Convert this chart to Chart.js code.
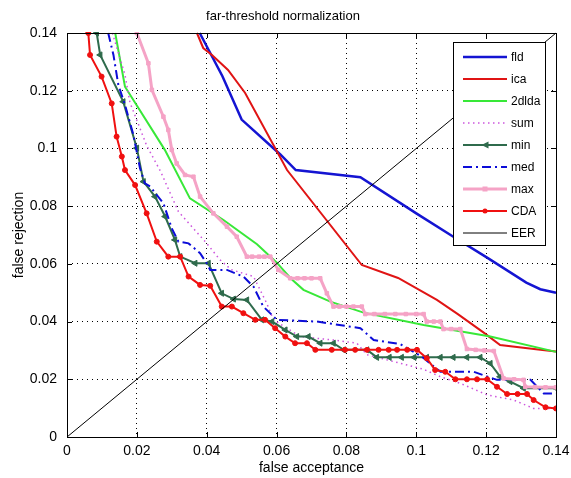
<!DOCTYPE html>
<html>
<head>
<meta charset="utf-8">
<script src="https://cdn.jsdelivr.net/npm/chart.js@4.4.1/dist/chart.umd.min.js"></script>
<style>
  html, body { margin: 0; padding: 0; background: #fff; }
  #c { display: block; }
</style>
</head>
<body>
<canvas id="c" width="571" height="478"></canvas>
<script>
// axis ticks (same for both axes)
const xTicks = [0, 0.02, 0.04, 0.06, 0.08, 0.1, 0.12, 0.14];
const yTicks = [0, 0.02, 0.04, 0.06, 0.08, 0.1, 0.12, 0.14];

const seriesNames = ['fld', 'ica', '2dlda', 'sum', 'min', 'med', 'max', 'CDA', 'EER'];

// [false acceptance, false rejection]
const fld = [[0.038, 0.14], [0.0445, 0.125], [0.050, 0.110], [0.061, 0.098], [0.0655, 0.0925],
  [0.084, 0.090], [0.100, 0.0775], [0.1105, 0.0695], [0.1205, 0.062], [0.1315, 0.0535],
  [0.1355, 0.0512], [0.140, 0.0500]];

const ica = [[0.0372, 0.14], [0.039, 0.1348], [0.0415, 0.1324], [0.0461, 0.1272], [0.051, 0.1192],
  [0.063, 0.0925], [0.0844, 0.0596], [0.0948, 0.0551], [0.1059, 0.0475], [0.112, 0.0425],
  [0.1195, 0.036], [0.124, 0.0319], [0.1355, 0.0302], [0.14, 0.0296]];

const lda2d = [[0.0138, 0.14], [0.0166, 0.1214], [0.028, 0.0995], [0.0352, 0.0827], [0.0448, 0.0752],
  [0.0544, 0.0668], [0.060, 0.0605], [0.064, 0.055], [0.0677, 0.051], [0.0754, 0.0469],
  [0.0849, 0.0431], [0.1021, 0.0388], [0.1212, 0.0348], [0.14, 0.0295]];

const sum = [[0.013, 0.14], [0.0166, 0.1255], [0.018, 0.116], [0.0228, 0.101], [0.0268, 0.092],
  [0.0319, 0.0781], [0.040, 0.0671], [0.0438, 0.0614], [0.047, 0.058], [0.0534, 0.0556],
  [0.0572, 0.0463], [0.0591, 0.0406], [0.0668, 0.0348], [0.0763, 0.0336], [0.083, 0.0325],
  [0.0859, 0.0285], [0.102, 0.0235], [0.1069, 0.0209], [0.1126, 0.0186], [0.1203, 0.0146],
  [0.1279, 0.0128], [0.1336, 0.0099], [0.14, 0.0099]];

const minRule = [[0.0085, 0.14], [0.0095, 0.1324], [0.0161, 0.1162], [0.020, 0.1001], [0.0219, 0.0885],
  [0.0252, 0.0833], [0.0281, 0.0764], [0.0309, 0.0683], [0.0324, 0.0625], [0.0367, 0.0602],
  [0.0405, 0.0602], [0.0443, 0.0498], [0.0477, 0.0478], [0.0515, 0.0475], [0.0558, 0.0406],
  [0.0587, 0.040], [0.0625, 0.0371], [0.0658, 0.0348], [0.0691, 0.0348], [0.0725, 0.0325],
  [0.0763, 0.0325], [0.0792, 0.0302], [0.0859, 0.0302], [0.0887, 0.0276], [0.0923, 0.0276],
  [0.0958, 0.0276], [0.0994, 0.0276], [0.103, 0.0276], [0.1069, 0.0276], [0.1106, 0.0276],
  [0.1145, 0.0276], [0.1183, 0.0276], [0.1212, 0.0255], [0.124, 0.0209], [0.1269, 0.0192],
  [0.1307, 0.0169], [0.14, 0.0169]];

const med = [[0.0118, 0.14], [0.0133, 0.1324], [0.0147, 0.122], [0.0166, 0.1151], [0.019, 0.1047],
  [0.0209, 0.0931], [0.0223, 0.0879], [0.0238, 0.0868], [0.0276, 0.081], [0.030, 0.0723],
  [0.0319, 0.0677], [0.0348, 0.0671], [0.0381, 0.0637], [0.040, 0.0602], [0.041, 0.0579],
  [0.0458, 0.0579], [0.0505, 0.0556], [0.0534, 0.0521], [0.0562, 0.0452], [0.0601, 0.0406],
  [0.0716, 0.040], [0.084, 0.0377], [0.0878, 0.0336], [0.0954, 0.0322], [0.1016, 0.0278],
  [0.1069, 0.0226], [0.1164, 0.0226], [0.1231, 0.0198], [0.1327, 0.0198], [0.1365, 0.0151],
  [0.14, 0.0151]];

const maxRule = [[0.020, 0.14], [0.0233, 0.1295], [0.0243, 0.1203], [0.0276, 0.111], [0.029, 0.1064],
  [0.030, 0.0995], [0.0314, 0.0948], [0.0338, 0.0908], [0.0362, 0.0902], [0.0381, 0.0833],
  [0.0419, 0.0775], [0.0458, 0.0729], [0.0486, 0.0694], [0.0515, 0.0625], [0.053, 0.0625],
  [0.055, 0.0625], [0.0565, 0.0625], [0.0582, 0.0625], [0.0605, 0.0579], [0.0639, 0.055],
  [0.066, 0.055], [0.068, 0.055], [0.070, 0.055], [0.0725, 0.055], [0.0744, 0.0498],
  [0.0763, 0.0452], [0.078, 0.0452], [0.080, 0.0452], [0.082, 0.0452], [0.0844, 0.0452],
  [0.0854, 0.0426], [0.088, 0.0426], [0.091, 0.0426], [0.094, 0.0426], [0.097, 0.0426],
  [0.100, 0.0426], [0.1021, 0.0426], [0.103, 0.040], [0.105, 0.040], [0.1069, 0.040],
  [0.1078, 0.0374], [0.110, 0.0374], [0.1126, 0.0374], [0.1145, 0.0305], [0.117, 0.0302],
  [0.1195, 0.030], [0.1222, 0.0298], [0.125, 0.0203], [0.128, 0.020], [0.1307, 0.0198],
  [0.1312, 0.0174], [0.134, 0.0173], [0.137, 0.0172], [0.14, 0.0172]];

const cda = [[0.0061, 0.14], [0.0066, 0.1324], [0.0099, 0.1249], [0.0128, 0.1156], [0.0142, 0.1041],
  [0.0157, 0.0972], [0.0166, 0.0925], [0.0195, 0.0873], [0.0228, 0.0775], [0.0257, 0.0677],
  [0.029, 0.0625], [0.0324, 0.0625], [0.0348, 0.0556], [0.0381, 0.0527], [0.041, 0.0524],
  [0.0443, 0.0452], [0.0472, 0.0452], [0.0505, 0.0429], [0.0539, 0.0406], [0.0567, 0.0406],
  [0.0596, 0.0377], [0.0625, 0.0348], [0.0653, 0.0325], [0.0687, 0.0325], [0.0711, 0.0302],
  [0.0758, 0.0302], [0.0796, 0.0302], [0.0825, 0.0302], [0.0859, 0.0302], [0.0892, 0.0302],
  [0.0921, 0.0302], [0.0945, 0.0302], [0.0974, 0.0302], [0.1002, 0.0302], [0.103, 0.0273],
  [0.1054, 0.0232], [0.1083, 0.0226], [0.1112, 0.020], [0.1145, 0.020], [0.1174, 0.020],
  [0.1203, 0.020], [0.1231, 0.0174], [0.126, 0.0149], [0.129, 0.0149], [0.1317, 0.0149],
  [0.1336, 0.0128], [0.137, 0.0103], [0.14, 0.0099]];

const eer = [[0, 0], [0.14, 0.14]];

const FONT = "'Liberation Sans', Arial, sans-serif";

function toPoints(pairs) {
  return pairs.map(p => ({ x: p[0], y: p[1] }));
}

function series(i, pairs, s) {
  return {
    label: seriesNames[i],
    data: toPoints(pairs),
    showLine: true,
    order: -i,
    clip: 1,
    borderColor: s.color,
    backgroundColor: s.color,
    borderWidth: s.width,
    borderDash: s.dash || [],
    pointStyle: s.marker || 'circle',
    pointRadius: s.marker ? s.size : 0,
    pointRotation: s.rotation || 0,
    pointBorderWidth: 1
  };
}

const datasets = [
  series(0, fld, { color: '#1414d2', width: 2.5 }),
  series(1, ica, { color: '#e01414', width: 2 }),
  series(2, lda2d, { color: '#38e838', width: 2 }),
  series(3, sum, { color: '#cc55dd', width: 1.5, dash: [1.5, 3.5] }),
  series(4, minRule, { color: '#2f6b4c', width: 2, marker: 'triangle', size: 3.5, rotation: -90 }),
  series(5, med, { color: '#0c0cd8', width: 2, dash: [9, 4, 2, 4] }),
  series(6, maxRule, { color: '#f5a3c6', width: 3, marker: 'rect', size: 2.5 }),
  series(7, cda, { color: '#f01010', width: 2, marker: 'circle', size: 2.5 }),
  series(8, eer, { color: '#000000', width: 1 })
];

function tickText(v) {
  return parseFloat(v.toFixed(2)).toString();
}

// legend marker
function drawMarker(ctx, ds, x, y) {
  if (!ds.pointRadius) return;
  const r = ds.pointRadius;
  ctx.fillStyle = ds.borderColor;
  ctx.beginPath();
  if (ds.pointStyle === 'triangle') {
    ctx.moveTo(x - r, y);
    ctx.lineTo(x + r, y - r);
    ctx.lineTo(x + r, y + r);
    ctx.closePath();
  } else if (ds.pointStyle === 'rect') {
    ctx.rect(x - r, y - r, 2 * r, 2 * r);
  } else {
    ctx.arc(x, y, r, 0, Math.PI * 2);
  }
  ctx.fill();
}

const decorations = {
  id: 'decorations',
  beforeDraw(chart) {
    const ctx = chart.ctx;
    ctx.save();
    ctx.fillStyle = '#fff';
    ctx.fillRect(0, 0, chart.width, chart.height);
    ctx.restore();
  },
  afterDraw(chart) {
    const { ctx, chartArea: a, scales } = chart;
    ctx.save();

    // plot box and inward ticks
    ctx.strokeStyle = '#000';
    ctx.lineWidth = 1;
    ctx.setLineDash([]);
    ctx.strokeRect(a.left + 0.5, a.top + 0.5, a.right - a.left, a.bottom - a.top);
    ctx.beginPath();
    xTicks.forEach(v => {
      const px = Math.round(scales.x.getPixelForValue(v)) + 0.5;
      ctx.moveTo(px, a.bottom); ctx.lineTo(px, a.bottom - 5);
      ctx.moveTo(px, a.top); ctx.lineTo(px, a.top + 5);
    });
    yTicks.forEach(v => {
      const py = Math.round(scales.y.getPixelForValue(v)) + 0.5;
      ctx.moveTo(a.left, py); ctx.lineTo(a.left + 5, py);
      ctx.moveTo(a.right, py); ctx.lineTo(a.right - 5, py);
    });
    ctx.stroke();

    // title
    ctx.fillStyle = '#000';
    ctx.font = '13px ' + FONT;
    ctx.textAlign = 'center';
    ctx.textBaseline = 'middle';
    ctx.fillText('far-threshold normalization', 283, 16);

    // legend box
    const lx = 453, ly = 42, lw = 92, lh = 203;
    ctx.fillStyle = '#fff';
    ctx.fillRect(lx, ly, lw, lh);
    ctx.strokeStyle = '#000';
    ctx.strokeRect(lx + 0.5, ly + 0.5, lw, lh);
    ctx.font = '12px ' + FONT;
    ctx.textAlign = 'left';
    chart.data.datasets.forEach((ds, i) => {
      const y = 57 + i * 22;
      ctx.strokeStyle = ds.borderColor;
      ctx.lineWidth = ds.borderWidth;
      ctx.setLineDash(ds.borderDash);
      ctx.beginPath();
      ctx.moveTo(463, y);
      ctx.lineTo(507, y);
      ctx.stroke();
      ctx.setLineDash([]);
      drawMarker(ctx, ds, 485, y);
      ctx.fillStyle = '#000';
      ctx.fillText(ds.label, 511, y + 1);
    });
    ctx.restore();
  }
};

function axis(ticks, titleText, isX) {
  return {
    type: 'linear',
    min: 0,
    max: 0.14,
    afterBuildTicks: scale => { scale.ticks = ticks.map(v => ({ value: v })); },
    afterFit: scale => {
      if (isX) {
        scale.height = 41;
        scale.paddingLeft = 0;
        scale.paddingRight = 0;
      } else {
        scale.width = 67;
        scale.paddingTop = 0;
        scale.paddingBottom = 0;
      }
    },
    ticks: {
      color: '#000',
      font: { family: FONT, size: 14 },
      padding: isX ? 6 : 10,
      maxRotation: 0,
      autoSkip: false,
      callback: v => tickText(v)
    },
    grid: { color: '#000', lineWidth: 1, drawTicks: false },
    border: { display: false, dash: [1, 4] },
    title: {
      display: true,
      text: titleText,
      color: '#000',
      font: { family: FONT, size: 14 },
      padding: isX ? { top: 0, bottom: 1 } : { top: 11, bottom: 0 }
    }
  };
}

new Chart(document.getElementById('c'), {
  type: 'scatter',
  data: { datasets },
  options: {
    responsive: false,
    animation: false,
    events: [],
    layout: { padding: { top: 33, right: 15, left: 0, bottom: 0 } },
    plugins: { legend: { display: false }, title: { display: false }, tooltip: { enabled: false } },
    scales: {
      x: axis(xTicks, 'false acceptance', true),
      y: axis(yTicks, 'false rejection', false)
    }
  },
  plugins: [decorations]
});
</script>
</body>
</html>
